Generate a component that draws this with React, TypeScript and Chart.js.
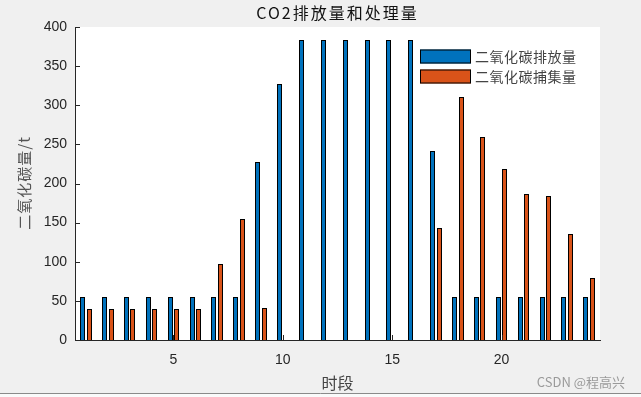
import { useEffect, useRef } from 'react';
import { Chart, registerables } from 'chart.js';

Chart.register(...registerables);

const periods = ['1', '2', '3', '4', '5', '6', '7', '8', '9', '10', '11', '12', '13', '14', '15', '16', '17', '18', '19', '20', '21', '22', '23', '24'];
const emission = [55, 55, 55, 55, 55, 55, 55, 55, 227, 327, 384, 384, 384, 384, 384, 384, 241, 55, 55, 55, 55, 55, 55, 55];
const capture = [40, 40, 40, 40, 40, 40, 97, 155, 41, 0, 0, 0, 0, 0, 0, 0, 143, 310, 259, 218, 187, 184, 136, 79];
const yTicks = [0, 50, 100, 150, 200, 250, 300, 350, 400];
const xTickLabels = ['5', '10', '15', '20'];
const seriesNames = ['二氧化碳排放量', '二氧化碳捕集量'];
const seriesColors = ['#0072BD', '#D95319'];
const titleText = 'CO2排放量和处理量';
const xTitle = '时段';
const yTitle = '二氧化碳量/t';
const watermark = 'CSDN @程高兴';

const NUM_FONT = '"Liberation Sans", Arial, sans-serif';
const CJK_FONT = '"Noto Sans CJK SC", "Liberation Sans", sans-serif';

const decor = {
  id: 'matlabDecor',
  afterDatasetsUpdate(chart: any) {
    chart.data.datasets.forEach((_ds: any, di: number) => {
      const meta = chart.getDatasetMeta(di);
      meta.data.forEach((el: any) => {
        el.x = Math.floor(el.x) + 0.5;
        el.width = 5;
        el.y = Math.round(el.y);
        el.base = Math.round(el.base) + 1;
      });
    });
  },
  beforeDraw(chart: any) {
    const { ctx, chartArea, width, height } = chart;
    ctx.save();
    ctx.fillStyle = '#f0f0f0';
    ctx.fillRect(0, 0, width, height);
    ctx.fillStyle = '#ffffff';
    ctx.fillRect(chartArea.left, chartArea.top, chartArea.right - chartArea.left, chartArea.bottom - chartArea.top);
    ctx.fillStyle = '#fafafa';
    ctx.fillRect(0, 394, width, height - 394);
    ctx.strokeStyle = '#8a8a8a';
    ctx.lineWidth = 1;
    ctx.beginPath();
    ctx.moveTo(0, 393.5);
    ctx.lineTo(width, 393.5);
    ctx.stroke();
    ctx.restore();
  },
  afterDatasetsDraw(chart: any) {
    const { ctx, chartArea, scales } = chart;
    ctx.save();
    ctx.strokeStyle = '#262626';
    ctx.lineWidth = 1;
    ctx.beginPath();
    yTicks.forEach((v) => {
      const y = Math.round(scales.y.getPixelForValue(v)) + 0.5;
      ctx.moveTo(chartArea.left, y);
      ctx.lineTo(chartArea.left + 5, y);
    });
    xTickLabels.forEach((l) => {
      const x = Math.round(scales.x.getPixelForValue(periods.indexOf(l))) + 0.5;
      ctx.moveTo(x, chartArea.bottom);
      ctx.lineTo(x, chartArea.bottom - 5);
    });
    ctx.stroke();
    ctx.restore();
  },
  afterDraw(chart: any) {
    const { ctx, chartArea } = chart;
    ctx.save();
    const cx = (chartArea.left + chartArea.right) / 2;
    ctx.fillStyle = '#111111';
    ctx.font = '16px ' + CJK_FONT;
    ctx.textAlign = 'center';
    ctx.textBaseline = 'middle';
    (ctx as any).letterSpacing = '2px';
    ctx.fillText(titleText, cx, 13);
    (ctx as any).letterSpacing = '0px';
    ctx.fillStyle = '#444444';
    ctx.font = '16px ' + CJK_FONT;
    ctx.fillText(xTitle, cx, 383);
    ctx.save();
    ctx.translate(24, 183);
    ctx.rotate(-Math.PI / 2);
    ctx.fillStyle = '#555555';
    ctx.font = '15px ' + CJK_FONT;
    (ctx as any).letterSpacing = '1px';
    ctx.fillText(yTitle, 0, 0);
    ctx.restore();
    const rows = [56.5, 76.5];
    chart.data.datasets.forEach((ds: any, i: number) => {
      const y = rows[i];
      ctx.fillStyle = ds.backgroundColor;
      ctx.fillRect(420, y - 7, 51, 14);
      ctx.strokeStyle = '#000000';
      ctx.lineWidth = 1;
      ctx.strokeRect(420.5, y - 6.5, 50, 13);
      ctx.fillStyle = '#444444';
      ctx.font = '14px ' + CJK_FONT;
      ctx.textAlign = 'left';
      ctx.textBaseline = 'middle';
      (ctx as any).letterSpacing = '0.5px';
      ctx.fillText(ds.label, 475, y);
      (ctx as any).letterSpacing = '0px';
    });
    ctx.fillStyle = '#9a9a9a';
    ctx.font = '13px ' + CJK_FONT;
    ctx.textAlign = 'right';
    ctx.textBaseline = 'middle';
    ctx.fillText(watermark, 625, 382);
    ctx.restore();
  },
};

export default function App() {
  const ref = useRef<HTMLCanvasElement | null>(null);
  useEffect(() => {
    document.body.style.margin = '0';
    const canvas = ref.current;
    if (!canvas) return;
    const chart = new Chart(canvas, {
      type: 'bar',
      data: {
        labels: periods,
        datasets: [
          {
            label: seriesNames[0],
            data: emission,
            backgroundColor: seriesColors[0],
            borderColor: '#000000',
            borderWidth: 1,
            borderSkipped: false,
            categoryPercentage: 0.585,
            barPercentage: 0.78,
          },
          {
            label: seriesNames[1],
            data: capture,
            backgroundColor: seriesColors[1],
            borderColor: '#000000',
            borderWidth: 1,
            borderSkipped: false,
            categoryPercentage: 0.585,
            barPercentage: 0.78,
          },
        ],
      },
      options: {
        responsive: false,
        devicePixelRatio: 1,
        animation: false,
        layout: { padding: { top: 27, right: 41, left: 0, bottom: 0 } },
        plugins: {
          legend: { display: false },
          title: { display: false },
          tooltip: { enabled: false },
        },
        scales: {
          x: {
            type: 'category',
            offset: true,
            grid: { display: true, drawOnChartArea: false, drawTicks: false },
            border: { display: true, color: '#262626', width: 1 },
            ticks: {
              autoSkip: false,
              maxRotation: 0,
              padding: 12,
              color: '#262626',
              font: { size: 14, family: NUM_FONT },
              callback: (_v: any, i: number) => (xTickLabels.includes(periods[i]) ? periods[i] : ''),
            },
            afterFit: (s: any) => {
              s.height = 57;
            },
          },
          y: {
            min: 0,
            max: 400,
            grid: { display: true, drawOnChartArea: false, drawTicks: false },
            border: { display: true, color: '#262626', width: 1 },
            ticks: {
              stepSize: 50,
              padding: 8,
              color: '#262626',
              font: { size: 14, family: NUM_FONT },
            },
            afterFit: (s: any) => {
              s.width = 75;
            },
          },
        },
      },
      plugins: [decor],
    } as any);
    return () => chart.destroy();
  }, []);
  return (
    <div style={{ width: 641, height: 397 }}>
      <canvas ref={ref} width={641} height={397} style={{ display: 'block' }} />
    </div>
  );
}
